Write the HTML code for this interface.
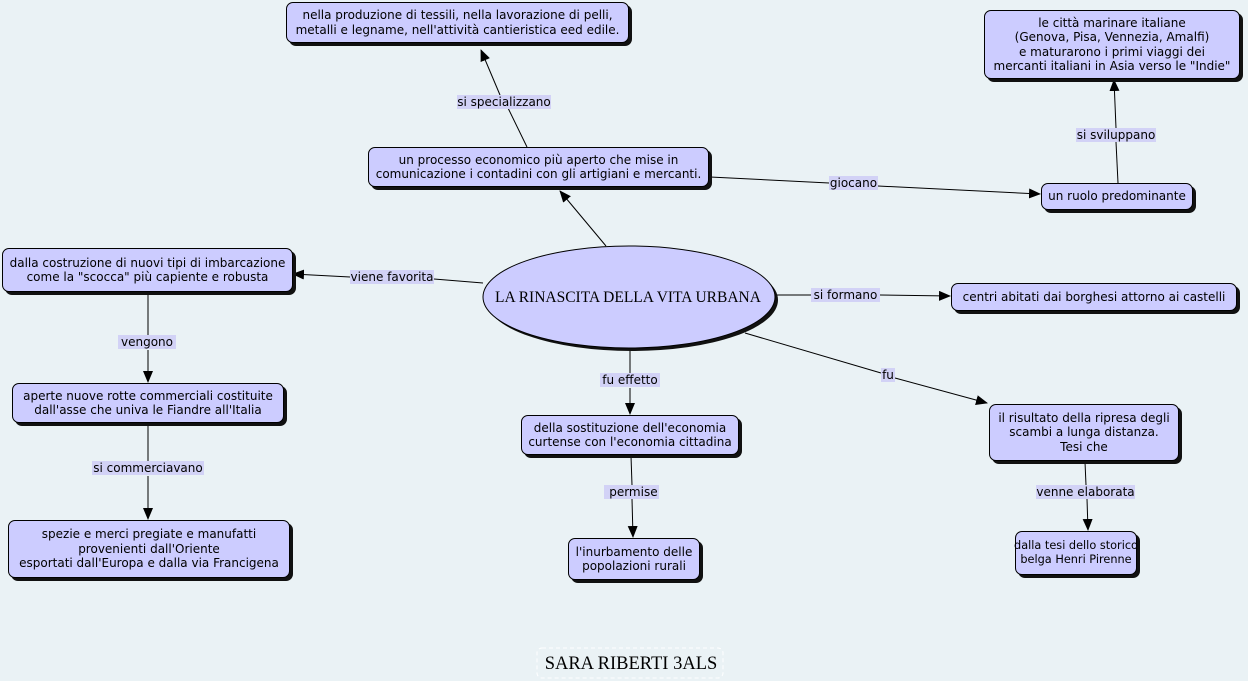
<!DOCTYPE html>
<html><head><meta charset="utf-8"><style>
body{margin:0;width:1248px;height:681px;background:#eaf2f5;position:relative;overflow:hidden;font-family:"DejaVu Sans","Liberation Sans",sans-serif;}
.n{position:absolute;box-sizing:border-box;background:#ccccff;border:1px solid #000;border-radius:7px;box-shadow:3px 3px 0 #111;font-size:12px;line-height:14.5px;text-align:center;color:#000;display:flex;align-items:center;justify-content:center;white-space:nowrap;}
.l{position:absolute;background:#d2d2f6;font-size:12px;line-height:14px;color:#000;white-space:nowrap;text-align:center;}
svg{position:absolute;left:0;top:0;}
</style></head><body>
<svg width="1248" height="681">
<defs><marker id="a" markerWidth="12" markerHeight="10" refX="11" refY="5" orient="auto" markerUnits="userSpaceOnUse"><path d="M0,0L12,5L0,10z" fill="#000"/></marker></defs>
<g stroke="#000" stroke-width="1" fill="none">
<line x1="527" y1="147" x2="508" y2="108"/><line x1="500" y1="95" x2="481" y2="50" marker-end="url(#a)"/>
<line x1="606" y1="246" x2="560" y2="191" marker-end="url(#a)"/>
<line x1="710" y1="177" x2="829" y2="183"/><line x1="878" y1="186" x2="1040" y2="194" marker-end="url(#a)"/>
<line x1="1118" y1="183" x2="1116" y2="142"/><line x1="1116" y1="128" x2="1114" y2="80" marker-end="url(#a)"/>
<line x1="483" y1="283" x2="434" y2="279"/><line x1="350" y1="277" x2="293" y2="274" marker-end="url(#a)"/>
<line x1="775" y1="295" x2="811" y2="295"/><line x1="880" y1="295" x2="950" y2="296" marker-end="url(#a)"/>
<line x1="745" y1="333" x2="881" y2="373"/><line x1="895" y1="378" x2="987" y2="403" marker-end="url(#a)"/>
<line x1="630" y1="350" x2="630" y2="373"/><line x1="630" y1="388" x2="630" y2="414" marker-end="url(#a)"/>
<line x1="148" y1="293" x2="148" y2="335"/><line x1="148" y1="350" x2="148" y2="382" marker-end="url(#a)"/>
<line x1="148" y1="424" x2="148" y2="461"/><line x1="148" y1="476" x2="148" y2="519" marker-end="url(#a)"/>
<line x1="631" y1="456" x2="632" y2="485"/><line x1="632" y1="499" x2="633" y2="537" marker-end="url(#a)"/>
<line x1="1085" y1="462" x2="1086" y2="485"/><line x1="1087" y1="499" x2="1088" y2="530" marker-end="url(#a)"/>
</g>
<ellipse cx="632" cy="300" rx="146" ry="51" fill="#111"/>
<ellipse cx="629" cy="297" rx="146" ry="51" fill="#ccccff" stroke="#000"/>
<text x="628" y="302" text-anchor="middle" font-family="Liberation Serif,serif" font-size="15.5">LA RINASCITA DELLA VITA URBANA</text>
<rect x="537" y="648" width="186" height="30" rx="5" fill="none" stroke="#fff" stroke-dasharray="4,3"/>
<text x="631" y="669" text-anchor="middle" font-family="Liberation Serif,serif" font-size="18.5">SARA RIBERTI 3ALS</text>
</svg>
<div class="n" style="left:286px;top:2px;width:343px;height:41px">nella produzione di tessili, nella lavorazione di pelli,<br>metalli e legname, nell'attività cantieristica eed edile.</div>
<div class="n" style="left:368px;top:147px;width:341px;height:40px">un processo economico più aperto che mise in<br>comunicazione i contadini con gli artigiani e mercanti.</div>
<div class="n" style="left:984px;top:10px;width:256px;height:69px">le città marinare italiane<br>(Genova, Pisa, Vennezia, Amalfi)<br>e maturarono i primi viaggi dei<br>mercanti italiani in Asia verso le "Indie"</div>
<div class="n" style="left:1041px;top:183px;width:152px;height:27px">un ruolo predominante</div>
<div class="n" style="left:2px;top:248px;width:291px;height:44px">dalla costruzione di nuovi tipi di imbarcazione<br>come la "scocca" più capiente e robusta</div>
<div class="n" style="left:951px;top:283px;width:286px;height:28px">centri abitati dai borghesi attorno ai castelli</div>
<div class="n" style="left:12px;top:383px;width:272px;height:40px">aperte nuove rotte commerciali costituite<br>dall'asse che univa le Fiandre all'Italia</div>
<div class="n" style="left:521px;top:415px;width:218px;height:40px">della sostituzione dell'economia<br>curtense con l'economia cittadina</div>
<div class="n" style="left:989px;top:404px;width:190px;height:57px">il risultato della ripresa degli<br>scambi a lunga distanza.<br>Tesi che</div>
<div class="n" style="left:8px;top:520px;width:282px;height:58px">spezie e merci pregiate e manufatti<br>provenienti dall'Oriente<br>esportati dall'Europa e dalla via Francigena</div>
<div class="n" style="left:568px;top:538px;width:132px;height:42px">l'inurbamento delle<br>popolazioni rurali</div>
<div class="n" style="left:1015px;top:531px;width:122px;height:44px;font-size:11.3px">dalla tesi dello storico<br>belga Henri Pirenne</div>
<div class="l" style="left:457px;top:95px;width:94px">si specializzano</div>
<div class="l" style="left:829px;top:176px;width:49px">giocano</div>
<div class="l" style="left:1076px;top:128px;width:80px">si sviluppano</div>
<div class="l" style="left:350px;top:270px;width:84px">viene favorita</div>
<div class="l" style="left:811px;top:288px;width:69px">si formano</div>
<div class="l" style="left:881px;top:368px;width:14px">fu</div>
<div class="l" style="left:600px;top:373px;width:60px">fu effetto</div>
<div class="l" style="left:118px;top:335px;width:58px">vengono</div>
<div class="l" style="left:92px;top:461px;width:112px">si commerciavano</div>
<div class="l" style="left:604px;top:485px;width:55px">&nbsp;permise</div>
<div class="l" style="left:1036px;top:485px;width:99px">venne elaborata</div>
</body></html>
